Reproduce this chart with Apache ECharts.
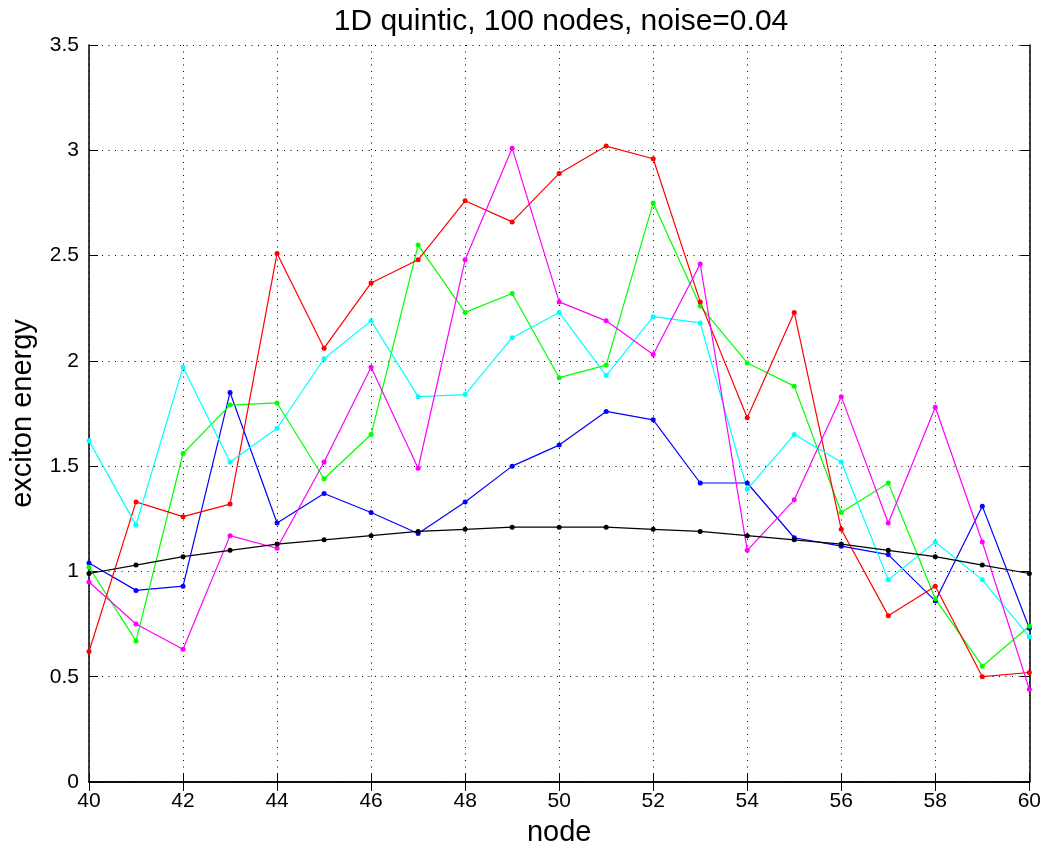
<!DOCTYPE html>
<html>
<head>
<meta charset="utf-8">
<script src="https://cdn.jsdelivr.net/npm/echarts@6/dist/echarts.min.js"></script>
<style>html,body{margin:0;padding:0;background:#fff;overflow:hidden}#c{width:1044px;height:852px}</style>
</head>
<body>
<div id="c"></div>
<script>
const nodes = [40,41,42,43,44,45,46,47,48,49,50,51,52,53,54,55,56,57,58,59,60];
const blue    = [1.04,0.91,0.93,1.85,1.23,1.37,1.28,1.18,1.33,1.50,1.60,1.76,1.72,1.42,1.42,1.16,1.12,1.08,0.86,1.31,0.73];
const green   = [1.02,0.67,1.56,1.79,1.80,1.44,1.65,2.55,2.23,2.32,1.92,1.98,2.75,2.26,1.99,1.88,1.28,1.42,0.87,0.55,0.74];
const red     = [0.62,1.33,1.26,1.32,2.51,2.06,2.37,2.48,2.76,2.66,2.89,3.02,2.96,2.28,1.73,2.23,1.20,0.79,0.93,0.50,0.52];
const cyan    = [1.62,1.22,1.97,1.52,1.68,2.01,2.19,1.83,1.84,2.11,2.23,1.93,2.21,2.18,1.39,1.65,1.52,0.96,1.14,0.96,0.69];
const magenta = [0.95,0.75,0.63,1.17,1.11,1.52,1.97,1.49,2.48,3.01,2.28,2.19,2.03,2.46,1.10,1.34,1.83,1.23,1.78,1.14,0.44];
const black   = [0.99,1.03,1.07,1.10,1.13,1.15,1.17,1.19,1.20,1.21,1.21,1.21,1.20,1.19,1.17,1.15,1.13,1.10,1.07,1.03,0.99];

const seriesDefs = [
  ['blue', blue, '#0000ff'],
  ['green', green, '#00ff00'],
  ['red', red, '#ff0000'],
  ['cyan', cyan, '#00ffff'],
  ['magenta', magenta, '#ff00ff'],
  ['black', black, '#000000']
];

const FONT = '"Liberation Sans", Arial, sans-serif';
const chart = echarts.init(document.getElementById('c'), null, {renderer: 'canvas', width: 1044, height: 852});

const gridDots = {show: true, lineStyle: {color: '#000', width: 1, type: [1, 5.5]}};

chart.setOption({
  animation: false,
  backgroundColor: '#fff',
  textStyle: {fontFamily: FONT, color: '#000'},
  title: {
    text: '1D quintic, 100 nodes, noise=0.04',
    left: 556, textAlign: 'center', top: 2,
    textStyle: {fontFamily: FONT, fontSize: 30, fontWeight: 'normal', color: '#000'}
  },
  grid: {left: 83, right: 14, top: 45, bottom: 59, containLabel: false},
  xAxis: [{
    type: 'value', min: 40, max: 60, interval: 2, position: 'bottom',
    name: 'node', nameLocation: 'middle', nameGap: 36,
    nameTextStyle: {fontFamily: FONT, fontSize: 29, color: '#000'},
    axisLine: {show: true, lineStyle: {color: '#000', width: 1.5}},
    axisTick: {show: true, inside: true, length: 9, lineStyle: {color: '#000', width: 1}},
    axisLabel: {fontFamily: FONT, fontSize: 21, color: '#000', margin: 9},
    splitLine: gridDots
  }, {
    type: 'value', min: 40, max: 60, interval: 2, position: 'top',
    axisLine: {show: true, lineStyle: {color: '#000', width: 1.5}},
    axisTick: {show: true, inside: true, length: 9, lineStyle: {color: '#000', width: 1}},
    axisLabel: {show: false}, splitLine: {show: false}
  }],
  yAxis: [{
    type: 'value', min: 0, max: 3.5, interval: 0.5, position: 'left',
    name: 'exciton energy', nameLocation: 'middle', nameGap: 52, nameRotate: 90,
    nameTextStyle: {fontFamily: FONT, fontSize: 29, color: '#000'},
    axisLine: {show: true, lineStyle: {color: '#000', width: 1.5}},
    axisTick: {show: true, inside: true, length: 9, lineStyle: {color: '#000', width: 1}},
    axisLabel: {fontFamily: FONT, fontSize: 21, color: '#000', margin: 10},
    splitLine: gridDots
  }, {
    type: 'value', min: 0, max: 3.5, interval: 0.5, position: 'right',
    axisLine: {show: true, lineStyle: {color: '#000', width: 1.5}},
    axisTick: {show: true, inside: true, length: 9, lineStyle: {color: '#000', width: 1}},
    axisLabel: {show: false}, splitLine: {show: false}
  }],
  series: seriesDefs.map(([name, vals, color]) => ({
    name: name, type: 'line', xAxisIndex: 0, yAxisIndex: 0,
    data: nodes.map((n, i) => [n, vals[i]]),
    symbol: 'circle', symbolSize: 5, showSymbol: true,
    lineStyle: {color: color, width: 1.2},
    itemStyle: {color: color},
    z: 3
  }))
});
</script>
</body>
</html>
